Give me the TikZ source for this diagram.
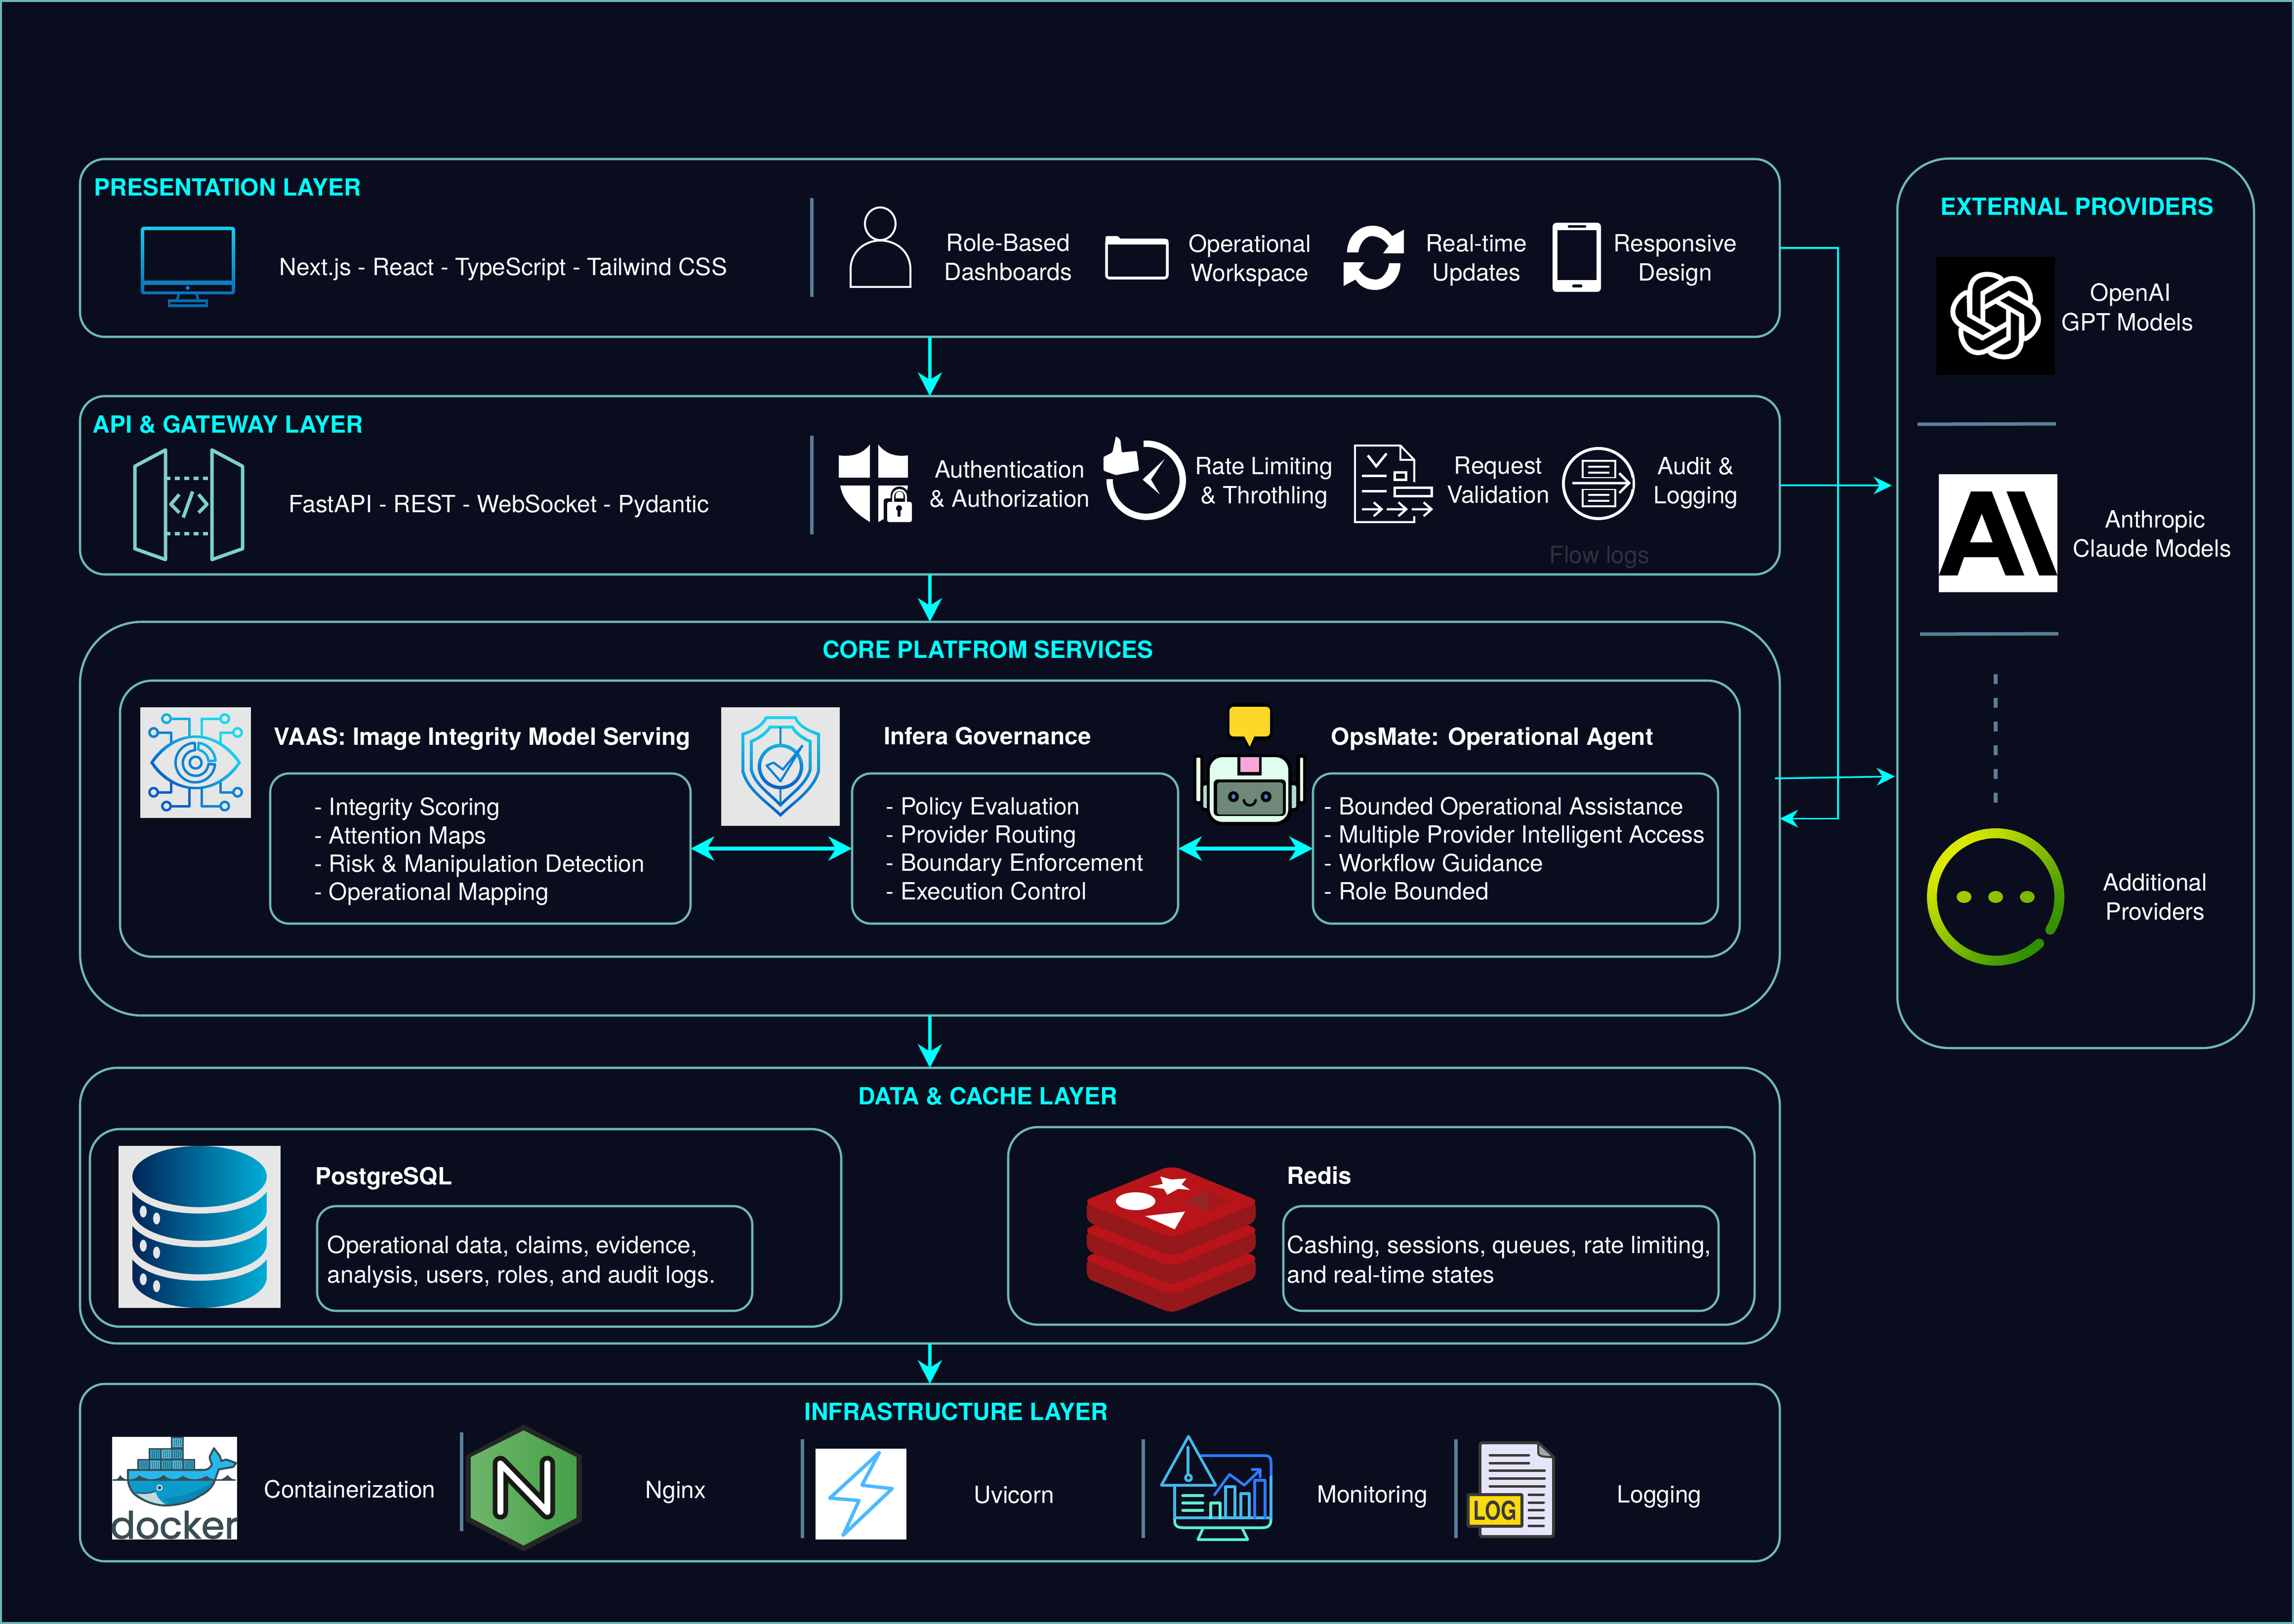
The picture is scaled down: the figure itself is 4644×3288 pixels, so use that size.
\documentclass[tikz,border=0pt]{standalone}
\usepackage{fontspec}
\setmainfont{TeX Gyre Heros}
\newfontfamily\dockfont[FakeBold=1.6]{Poppins}
\usetikzlibrary{arrows.meta}
\definecolor{bgc}{HTML}{0A0D1E}
\definecolor{tealc}{HTML}{6DB8B9}
\definecolor{sepc}{HTML}{5B7F99}
\definecolor{cyanc}{HTML}{00FFFF}
\definecolor{gray9}{HTML}{E6E6E6}
\definecolor{ringa}{HTML}{DCEB00}
\definecolor{ringb}{HTML}{2F8F00}
\definecolor{redtop}{HTML}{B81419}
\definecolor{redside}{HTML}{95181B}
\definecolor{dgrey}{HTML}{3A3A3A}
\definecolor{dockd}{HTML}{394D54}
\definecolor{eyea}{HTML}{0A5FC8}
\definecolor{eyeb}{HTML}{0B83D6}
\definecolor{eyec}{HTML}{12AEE4}
\definecolor{eyed}{HTML}{1AD6F0}
\definecolor{gw}{HTML}{7ED0CC}
\definecolor{robscreen}{HTML}{6F8878}
\definecolor{pga}{HTML}{00255A}
\definecolor{pgb}{HTML}{00AED6}
\definecolor{nga}{HTML}{6DB56B}
\definecolor{ngb}{HTML}{47A048}
\definecolor{mona}{HTML}{5BEFD0}
\definecolor{monb}{HTML}{45B8EA}
\definecolor{monc}{HTML}{2F7BFF}
\definecolor{whup}{HTML}{27B7EE}
\definecolor{whlo}{HTML}{0A9BCB}
\definecolor{whdk}{HTML}{0888B5}
\definecolor{whjaw}{HTML}{BFD9E0}
\definecolor{ctra}{HTML}{2A9FC4}
\definecolor{ctrb}{HTML}{4BB8DC}
\definecolor{boltc}{HTML}{4DB8FF}
\tikzset{
  framebox/.style={draw=tealc,line width=1.3pt,fill=bgc,inner sep=0pt,outer sep=0pt},
  body/.style={text=white,font=\fontsize{13.65}{16.8}\selectfont,align=center,inner sep=0pt},
  listtxt/.style={text=white,font=\fontsize{13.65}{16.3}\selectfont,align=left,anchor=west,inner sep=0pt},
  head/.style={text=white,font=\fontsize{13.65}{16}\selectfont\bfseries,inner sep=0pt},
  layertitle/.style={text=cyanc,font=\fontsize{13.65}{16}\selectfont\bfseries,inner sep=0pt},
  sepline/.style={draw=sepc,line width=.07cm},
  bigarrow/.style={draw=cyanc,line width=.07cm,-{Stealth[length=.48cm,width=.49cm,inset=.15cm]}},
  dblarrow/.style={draw=cyanc,line width=.08cm,{Stealth[length=.48cm,width=.49cm,inset=.15cm]}-{Stealth[length=.48cm,width=.49cm,inset=.15cm]}},
  thinarrow/.style={draw=cyanc,line width=.035cm,-{Stealth[length=.37cm,width=.36cm,inset=.12cm]}},
  icon/.style={draw=white,line width=.04cm},
  eyeline/.style={line width=.05cm,line join=round},
}
\newcommand{\panel}[6]{%
  \pgfmathsetmacro\pnlcx{(#2+#4)/2}\pgfmathsetmacro\pnlcy{(#3+#5)/2}%
  \pgfmathsetmacro\pnlw{#4-#2}\pgfmathsetmacro\pnlh{#5-#3}%
  \node[framebox,rounded corners=#6 cm,minimum width=\pnlw*0.01cm,minimum height=\pnlh*0.01cm] (#1) at (\pnlcx,\pnlcy) {};}
\begin{document}
\begin{tikzpicture}[x=0.01cm,y=-0.01cm]
\useasboundingbox (0,0) rectangle (4644,3288);
\fill[bgc] (0,0) rectangle (4644,3288);
\draw[tealc,line width=.04cm] (2,2) rectangle (4642,3286);
% ---------- panels
\panel{pres}{162}{322}{3603}{682}{.5}
\panel{api}{162}{802}{3603}{1163}{.5}
\panel{core}{162}{1259}{3603}{2056}{1.25}
\panel{coreinner}{243}{1378}{3522}{1937}{.65}
\panel{vaaslist}{547}{1566}{1398}{1870}{.38}
\panel{inferalist}{1725}{1566}{2385}{1870}{.38}
\panel{opslist}{2658}{1566}{3478}{1870}{.38}
\panel{data}{162}{2162}{3603}{2720}{.75}
\panel{pglook}{182}{2286}{1703}{2686}{.6}
\panel{redislook}{2041}{2282}{3552}{2682}{.6}
\panel{pgdesc}{642}{2442}{1523}{2654}{.38}
\panel{redisdesc}{2598}{2442}{3479}{2654}{.38}
\panel{infra}{162}{2802}{3603}{3161}{.5}
\panel{ext}{3841}{321}{4563}{2122}{1.05}
% ---------- titles
\node[layertitle,anchor=west] (tpres) at (190,379) {PRESENTATION LAYER};
\node[layertitle,anchor=west] (tapi) at (187,859) {API \& GATEWAY LAYER};
\node[layertitle] (tcore) at (2000,1315) {CORE PLATFROM SERVICES};
\node[layertitle] (tdata) at (2000,2219) {DATA \& CACHE LAYER};
\node[layertitle] (tinfra) at (1936,2858) {INFRASTRUCTURE LAYER};
\node[layertitle] (text) at (4205,418) {EXTERNAL PROVIDERS};
% ---------- body texts
\node[body] (l1) at (1019,545) {Next.js - React - TypeScript - Tailwind CSS};
\node[body] (l2) at (2041,521) {Role-Based\\Dashboards};
\node[body] (l3) at (2530,527) {Operational\\Workspace};
\node[body] (l4) at (2989,527) {Real-time\\Updates};
\node[body] (l5) at (3391,527) {Responsive\\Design};
\node[body] (l6) at (1010,1025) {FastAPI - REST - WebSocket - Pydantic};
\node[body] (l7) at (2044,980) {Authentication\\\& Authorization};
\node[body] (l8) at (2559,978) {Rate Limiting\\\& Throthling};
\node[body] (l9) at (3033,972) {Request\\Validation};
\node[body] (l10) at (3433,978) {Audit \&\\Logging};
\node[body,text=bgc!85!white] (flow) at (3238,1128) {Flow logs};
\node[head,anchor=west] (h1) at (554,1496) {VAAS: Image Integrity Model Serving};
\node[head] (h2) at (1999,1490) {Infera Governance};
\node[head] (h3) at (3021,1496) {OpsMate: Operational Agent};
\node[listtxt] (li1) at (636,1724) {- Integrity Scoring\\- Attention Maps\\- Risk \& Manipulation Detection\\- Operational Mapping};
\node[listtxt] (li2) at (1793,1718) {- Policy Evaluation\\- Provider Routing\\- Boundary Enforcement\\- Execution Control};
\node[listtxt] (li3) at (2680,1718) {- Bounded Operational Assistance\\- Multiple Provider Intelligent Access\\- Workflow Guidance\\- Role Bounded};
\node[head,anchor=west] (h4) at (638,2386) {PostgreSQL};
\node[head,anchor=west] (h5) at (2605,2380) {Redis};
\node[listtxt,font=\fontsize{13.65}{16.9}\selectfont] (d1) at (662,2555) {Operational data, claims, evidence,\\analysis, users, roles, and audit logs.};
\node[listtxt,font=\fontsize{13.65}{16.9}\selectfont] (d2) at (2605,2550) {Cashing, sessions, queues, rate limiting,\\and real-time states};
\node[body] (i1) at (708,3015) {Containerization};
\node[body] (i2) at (1368,3021) {Nginx};
\node[body] (i3) at (2053,3026) {Uvicorn};
\node[body] (i4) at (2778,3030) {Monitoring};
\node[body] (i5) at (3359,3030) {Logging};
\node[body] (e1) at (4307,622) {\hspace*{.12cm}OpenAI\\GPT Models};
\node[body] (e2) at (4357,1081) {\hspace*{.12cm}Anthropic\\Claude Models};
\node[body] (e3) at (4363,1816) {Additional\\Providers};
% ---------- separators
\draw[sepline] (1643,401) -- (1643,601);
\draw[sepline] (1643,882) -- (1643,1082);
\draw[sepline] (934,2900) -- (934,3100);
\draw[sepline] (1624,2914) -- (1624,3114);
\draw[sepline] (2314,2914) -- (2314,3114);
\draw[sepline] (2947,2914) -- (2947,3114);
\draw[sepline] (3882,859) -- (4162,858);
\draw[sepline] (3887,1284) -- (4167,1283);
\draw[sepc,line width=.08cm,dash pattern=on .2cm off .28cm] (4040,1365) -- (4040,1625);
% ---------- connectors
\draw[bigarrow] (pres.south) -- (api.north);
\draw[bigarrow] (api.south) -- (core.north);
\draw[bigarrow] (core.south) -- (data.north);
\draw[bigarrow] (data.south) -- (infra.north);
\draw[dblarrow] (vaaslist.east) -- (inferalist.west);
\draw[dblarrow] (inferalist.east) -- (opslist.west);
\coordinate (bus) at (3721,1000);
\coordinate (extapi) at (3830,983);
\coordinate (coreout) at (3593,1576);
\coordinate (extcore) at (3836,1572);
\draw[thinarrow] (pres.east) -| (bus) |- (core.east);
\draw[thinarrow] (api.east) -- (extapi);
\draw[thinarrow] (coreout) -- (extcore);
% ---------- desktop icon
\shade[top color=eyed!70!eyec,bottom color=eyeb!85!black,rounded corners=.06cm] (285,459) rectangle (476,596);
\fill[bgc] (292,466) rectangle (469,568);
\fill[bgc] (292,577) rectangle (469,590);
\fill[eyeb] (380,583) circle (4);
\draw[eyeb!80!black,line width=.05cm] (362,596) -- (358,609) (398,596) -- (402,609);
\draw[eyeb!80!black,line width=.05cm] (342,609) rectangle (418,619);
% ---------- gateway icon
\begin{scope}[line width=.07cm,line join=round]
\draw[gw] (335,911) -- (273,944) -- (273,1111) -- (335,1133) -- cycle;
\draw[gw] (429,911) -- (491,944) -- (491,1111) -- (429,1133) -- cycle;
\draw[gw,dash pattern=on .1cm off .09cm] (335,968) -- (429,968);
\draw[gw,dash pattern=on .1cm off .09cm] (335,1080) -- (429,1080);
\draw[gw] (363,1001) -- (346,1021) -- (363,1038);
\draw[gw] (402,1001) -- (419,1021) -- (402,1038);
\draw[gw] (390,995) -- (371,1048);
\end{scope}
% ---------- person
\draw[icon] (1782,453) ellipse (31 and 33);
\draw[icon] (1722,581) -- (1722,545) .. controls (1722,510) and (1750,487) .. (1782,487) .. controls (1815,487) and (1843,510) .. (1843,545) -- (1843,581) -- cycle;
% ---------- folder
\draw[white,line width=.055cm,rounded corners=.06cm] (2240,486) rectangle (2363,563);
\fill[white,rounded corners=.03cm] (2238,478) -- (2264,478) -- (2268,484) -- (2365,484) -- (2365,495) -- (2238,495) -- cycle;
% ---------- refresh
\foreach \rr in {0,180}{
\fill[white,rotate around={\rr:(2781,522)}] (2727,511) .. controls (2727,480) and (2750,457) .. (2778,457) .. controls (2795,457) and (2808,463) .. (2818,478) -- (2842,465) -- (2842,513) -- (2800,513) -- (2811,498) .. controls (2802,484) and (2790,478) .. (2775,478) .. controls (2762,480) and (2752,495) .. (2750,511) -- cycle;
}
% ---------- phone
\fill[white,rounded corners=.08cm] (3143,451) rectangle (3241,591);
\fill[bgc] (3153,466) rectangle (3232,567);
\fill[bgc,rounded corners=.015cm] (3174,456) rectangle (3211,461);
\fill[bgc,rounded corners=.015cm] (3183,576) rectangle (3203,582);
% ---------- auth shield
\fill[white] (1761,900) .. controls (1745,920) and (1725,925) .. (1698,922) -- (1698,967) -- (1761,967) -- cycle;
\fill[white] (1778,900) .. controls (1794,920) and (1814,925) .. (1838,922) -- (1838,967) -- (1778,967) -- cycle;
\fill[white] (1701,983) -- (1761,983) -- (1761,1057) .. controls (1725,1035) and (1705,1010) .. (1701,983) -- cycle;
\fill[white] (1778,983) -- (1838,983) .. controls (1835,1015) and (1810,1040) .. (1778,1057) -- cycle;
\draw[bgc,line width=.1cm] (1808,1016) -- (1808,1003) arc[start angle=180,end angle=360,radius=13] -- (1834,1016);
\fill[bgc,rounded corners=.05cm] (1789,1009) rectangle (1850,1060);
\draw[white,line width=.04cm] (1808,1016) -- (1808,1005) arc[start angle=180,end angle=360,radius=13] -- (1834,1016);
\fill[white,rounded corners=.04cm] (1796,1016) rectangle (1846,1057);
\fill[bgc] (1820,1029) circle (6);
\fill[bgc] (1817,1031) rectangle (1823,1046);
% ---------- clock & thumb
\draw[white,line width=.13cm] (2305,900) arc[start angle=-102,end angle=192,radius=74];
\fill[white] (2358,929) -- (2313,971) -- (2348,1001) -- (2330,971) -- cycle;
\fill[bgc] (2225,875) rectangle (2315,970);
\fill[white,rounded corners=.02cm] (2259,883) -- (2268,890) -- (2271,916) -- (2301,913) -- (2306,953) -- (2259,962) -- (2234,953) -- (2234,925) -- (2252,916) -- cycle;
% ---------- validation doc
\draw[icon] (2863,976) -- (2863,931) -- (2835,902) -- (2743,902) -- (2743,1057) -- (2863,1057) -- (2863,1045);
\draw[icon] (2835,902) -- (2835,931) -- (2863,931);
\draw[icon,line width=.05cm] (2769,922) -- (2786,944) -- (2807,918);
\draw[icon,line width=.05cm] (2757,963) -- (2807,963) (2757,994) -- (2807,994);
\draw[icon,line width=.05cm] (2823,956) rectangle (2846,971);
\draw[icon,line width=.05cm] (2823,987) rectangle (2898,1004);
\foreach \ax in {2757,2807,2858}{
\draw[icon,line width=.045cm] (\ax,1031) -- +(40,0) (\ax+24,1017) -- (\ax+40,1031) -- (\ax+24,1045);
}
% ---------- audit icon
\draw[icon,line width=.06cm] (3236,979) circle (71);
\draw[icon] (3204,933) rectangle (3270,968);
\draw[icon] (3204,990) rectangle (3270,1025);
\draw[icon] (3215,945) -- (3258,945) (3215,957) -- (3258,957) (3215,1002) -- (3258,1002) (3215,1014) -- (3258,1014);
\fill[bgc] (3175,968) rectangle (3305,990);
\draw[icon,line width=.05cm] (3183,978) -- (3296,978) (3278,958) -- (3298,978) -- (3278,998);
% ---------- eye icon
\fill[gray9] (284,1432) rectangle (508,1656);
\begin{scope}[eyeline]
\foreach \nx/\ny/\ax/\ay/\kx/\cc in {337/1455/383/1494/383/eyec,455/1455/408/1494/408/eyed,311/1483/346/1504/346/eyeb,481/1483/446/1504/446/eyed,337/1632/383/1594/383/eyea,455/1632/408/1594/408/eyeb,311/1604/346/1584/346/eyea,481/1604/446/1584/446/eyeb}{
\draw[\cc] (\ax,\ay) -- (\kx,\ny) -- (\nx,\ny);
\draw[\cc,fill=gray9] (\nx,\ny) circle (8.5);
}
\end{scope}
\shade[left color=eyea,right color=eyed,shading angle=135] (304,1544) .. controls (325,1510) and (360,1489) .. (396,1489) .. controls (432,1489) and (467,1510) .. (488,1544) .. controls (467,1578) and (432,1598) .. (396,1598) .. controls (360,1598) and (325,1578) .. (304,1544) -- cycle;
\fill[gray9] (311,1544) .. controls (332,1515) and (362,1494) .. (396,1494) .. controls (430,1494) and (460,1515) .. (481,1544) .. controls (460,1573) and (430,1593) .. (396,1593) .. controls (362,1593) and (332,1573) .. (311,1544) -- cycle;
\draw[eyeb,eyeline] (394,1504) arc[start angle=268,end angle=90,radius=40] arc[start angle=90,end angle=5,radius=40] -- (422,1547) arc[start angle=5,end angle=90,radius=26] arc[start angle=90,end angle=268,radius=26] -- cycle;
\draw[eyec,eyeline] (402,1504) arc[start angle=-82,end angle=-5,radius=40] -- (422,1541) arc[start angle=-5,end angle=-78,radius=26] -- cycle;
\draw[eyeb,eyeline] (396,1544) circle (12);
% ---------- shield icon
\fill[gray9] (1460,1432) rectangle (1700,1672);
\shade[top color=eyed,bottom color=eyea] (1549,1450) -- (1612,1450) .. controls (1620,1470) and (1640,1478) .. (1660,1484) -- (1660,1562) .. controls (1650,1600) and (1610,1625) .. (1580,1654) .. controls (1550,1625) and (1510,1600) .. (1501,1562) -- (1501,1484) .. controls (1520,1478) and (1540,1470) .. (1549,1450) -- cycle;
\fill[gray9] (1553,1456) -- (1608,1456) .. controls (1616,1473) and (1636,1482) .. (1654,1489) -- (1654,1560) .. controls (1645,1596) and (1608,1620) .. (1580,1646) .. controls (1552,1620) and (1515,1596) .. (1507,1560) -- (1507,1489) .. controls (1524,1482) and (1545,1473) .. (1553,1456) -- cycle;
\shade[top color=eyed,bottom color=eyea] (1557,1469) -- (1606,1469) .. controls (1612,1482) and (1628,1493) .. (1643,1499) -- (1643,1559) .. controls (1635,1590) and (1600,1612) .. (1580,1634) .. controls (1560,1612) and (1525,1590) .. (1518,1559) -- (1518,1499) .. controls (1533,1493) and (1550,1482) .. (1557,1469) -- cycle;
\fill[gray9] (1561,1475) -- (1602,1475) .. controls (1608,1486) and (1624,1498) .. (1637,1503) -- (1637,1557) .. controls (1630,1586) and (1598,1606) .. (1580,1626) .. controls (1562,1606) and (1530,1586) .. (1524,1557) -- (1524,1503) .. controls (1537,1498) and (1554,1486) .. (1561,1475) -- cycle;
\draw[eyeb,line width=.04cm] (1580,1472) -- (1580,1630);
\shade[top color=eyec,bottom color=eyea] (1580,1552) circle (46);
\fill[gray9] (1580,1552) circle (39);
\draw[eyeb,line width=.045cm,line join=round] (1552,1550) -- (1580,1582) -- (1624,1510) -- (1585,1558) -- (1566,1544) -- cycle;
% ---------- robot
\fill[black,rounded corners=.12cm] (2484,1424) rectangle (2576,1498);
\fill[black] (2510,1490) -- (2548,1490) -- (2530,1519) -- cycle;
\fill[yellow!70!orange!85!white,rounded corners=.08cm] (2489,1431) rectangle (2571,1491);
\fill[yellow!70!orange!85!white] (2518,1489) -- (2540,1489) -- (2530,1512) -- cycle;
\fill[black,rounded corners=.05cm] (2416,1527) rectangle (2436,1628);
\fill[black,rounded corners=.05cm] (2624,1527) rectangle (2644,1628);
\fill[green!10!white,rounded corners=.02cm] (2422,1534) rectangle (2430,1622);
\fill[green!10!white,rounded corners=.02cm] (2632,1534) rectangle (2638,1622);
\fill[black,rounded corners=.08cm] (2430,1582) rectangle (2630,1642);
\fill[teal!30!white,rounded corners=.04cm] (2436,1590) rectangle (2624,1636);
\fill[black,rounded corners=.3cm] (2443,1527) rectangle (2615,1671);
\fill[green!8!white!95!cyan,rounded corners=.26cm] (2449,1533) rectangle (2608,1664);
\fill[black] (2505,1533) rectangle (2554,1570);
\fill[magenta!35!white] (2511,1533) rectangle (2549,1563);
\fill[black,rounded corners=.08cm] (2457,1578) rectangle (2603,1652);
\fill[robscreen,rounded corners=.05cm] (2464,1584) rectangle (2597,1649);
\fill[black] (2497,1613) ellipse (11 and 11);
\fill[black] (2563,1613) ellipse (11 and 11);
\fill[cyan!50!blue!80!white] (2497,1613) ellipse (4 and 5);
\fill[cyan!50!blue!80!white] (2563,1613) ellipse (4 and 5);
\draw[black,line width=.05cm,line cap=round] (2518,1620) .. controls (2520,1634) and (2540,1634) .. (2542,1620);
% ---------- postgres
\fill[gray9] (240,2320) rectangle (568,2648);
\shade[left color=pga,right color=pgb] (404,2382) ellipse (136 and 62);
\foreach \ts/\ic/\bc in {2413/2457/2450,2482/2525/2518,2550/2593/2586}{
\shade[left color=pga,right color=pgb] (268,\ts) -- (268,\bc) .. controls (268,\bc+35) and (330,\bc+62) .. (404,\bc+62) .. controls (478,\bc+62) and (540,\bc+35) .. (540,\bc) -- (540,\ts) .. controls (515,\ic-12) and (460,\ic) .. (404,\ic) .. controls (348,\ic) and (293,\ic-12) .. (268,\ts) -- cycle;
\fill[gray9] (290,\ts+40) ellipse (7 and 12);
\fill[gray9] (317,\ts+54) ellipse (7 and 12);
}
% ---------- redis
\foreach \c in {2548,2491,2433}{
\fill[redside,rounded corners=.12cm] (2372,\c-40) -- (2542,\c) -- (2542,\c+40) -- (2380,\c+108) -- (2364,\c+108) -- (2200,\c+40) -- (2200,\c) -- cycle;
\fill[redtop,rounded corners=.2cm] (2372,\c-74) -- (2552,\c) -- (2372,\c+74) -- (2190,\c) -- cycle;
}
\fill[white] (2299,2432) ellipse (40 and 18);
\fill[white] (2349,2382) -- (2371,2388) -- (2402,2386) -- (2392,2398) -- (2409,2409) -- (2385,2407) -- (2363,2419) -- (2356,2407) -- (2325,2403) -- (2354,2397) -- cycle;
\fill[white] (2399,2453) -- (2318,2462) -- (2378,2489) -- cycle;
\fill[red!50!black!85!white] (2445,2411) -- (2398,2432) -- (2445,2453) -- cycle;
\fill[red!60!black!90!white] (2445,2411) -- (2493,2432) -- (2445,2453) -- cycle;
% ---------- docker
\fill[white] (227,2909) rectangle (480,3117);
\fill[dockd] (346,2909) rectangle (372,2932);
\fill[dockd] (301,2932) rectangle (372,2954);
\fill[dockd] (278,2954) rectangle (395,2977);
\foreach \bx/\by/\cc in {349/2912/ctrb,304/2935/ctra,327/2935/ctrb,349/2935/ctra,281/2957/ctra,304/2957/ctrb,327/2957/ctra,349/2957/ctrb,372/2957/ctra}{
\fill[\cc] (\bx,\by) rectangle +(20,18);
\foreach \gx in {4,8,12,16}{\draw[dockd,line width=.008cm] (\bx+\gx,\by+2) -- (\bx+\gx,\by+16);}
}
\fill[whup] (259,2976) -- (412,2976) .. controls (420,2976) and (427,2972) .. (429,2964) .. controls (425,2958) and (424,2950) .. (425,2948) -- (433,2932) -- (445,2948) -- (448,2958) -- (458,2955) -- (478,2962) -- (472,2970) -- (443,2975) -- (433,3002) -- (259,3002) -- cycle;
\fill[whlo] (259,2995) -- (437,2995) -- (433,3002) .. controls (425,3020) and (405,3028) .. (405,3028) .. controls (390,3040) and (360,3048) .. (335,3048) .. controls (310,3048) and (285,3036) .. (272,3025) .. controls (265,3018) and (260,3008) .. (259,2995) -- cycle;
\fill[whdk] (435,2998) .. controls (410,3015) and (375,3030) .. (330,3034) .. controls (340,3040) and (345,3046) .. (345,3047) .. controls (385,3046) and (425,3020) .. (435,2998) -- cycle;
\fill[whjaw] (275,3023) .. controls (290,3024) and (305,3023) .. (315,3019) .. controls (316,3030) and (325,3040) .. (337,3047) .. controls (315,3047) and (290,3037) .. (275,3023) -- cycle;
\draw[dockd,line width=.04cm,line join=round] (259,2976) -- (412,2976) .. controls (420,2976) and (427,2972) .. (429,2964) .. controls (425,2958) and (424,2950) .. (425,2948) -- (433,2932) -- (445,2948) -- (448,2958) -- (458,2955) -- (478,2962) -- (472,2970) -- (443,2975) -- (433,3002) .. controls (425,3020) and (405,3028) .. (405,3028) .. controls (390,3040) and (360,3048) .. (335,3048) .. controls (310,3048) and (285,3036) .. (272,3025) .. controls (265,3018) and (260,3008) .. (259,2995) -- cycle;
\draw[dockd,line width=.03cm] (228,2996) -- (477,2996);
\fill[dockd] (260,2996) .. controls (270,2995) and (278,2992) .. (282,2987) .. controls (288,2992) and (300,2995) .. (306,2995) .. controls (316,2995) and (326,2992) .. (331,2986) .. controls (337,2992) and (345,2995) .. (350,2995) .. controls (358,2995) and (365,2992) .. (370,2988) .. controls (375,2992) and (385,2995) .. (393,2995) .. controls (403,2995) and (412,2992) .. (418,2988) .. controls (422,2992) and (430,2995) .. (436,2996) -- cycle;
\fill[dockd] (232,2996) .. controls (240,2994) and (242,2990) .. (243,2986) .. controls (246,2991) and (252,2995) .. (258,2996) -- cycle;
\fill[dockd] (445,2996) .. controls (452,2994) and (458,2990) .. (461,2986) .. controls (464,2991) and (470,2995) .. (476,2996) -- cycle;
\draw[dockd,line width=.025cm] (275,3022) .. controls (290,3025) and (305,3023) .. (315,3019);
\fill[white] (323,3012) circle (6);
\fill[dockd] (323,3012) circle (4);
\node[inner sep=0pt,text=dockd,font=\dockfont\fontsize{21.5}{22}\selectfont,anchor=base] (dockertxt) at (353,3115) {docker};
% ---------- nginx
\fill[black!85!white] (1060,2884) -- (1178,2947) -- (1178,3080) -- (1060,3141) -- (943,3080) -- (943,2947) -- cycle;
\shade[left color=nga,right color=ngb] (1060,2896) -- (1167,2950) -- (1167,3073) -- (1060,3129) -- (953,3073) -- (953,2950) -- cycle;
\draw[black!90!white,line width=.31cm,line join=round,line cap=round] (1013,3061) -- (1013,2963) -- (1108,3061) -- (1108,2963);
\draw[white,line width=.12cm,line join=round,line cap=round] (1013,3061) -- (1013,2963) -- (1108,3061) -- (1108,2963);
% ---------- uvicorn
\fill[white] (1651,2933) rectangle (1835,3117);
\draw[boltc,line width=.07cm,line join=round] (1780,2941) -- (1745,3007) -- (1806,3014) -- (1707,3108) -- (1739,3038) -- (1680,3033) -- cycle;
% ---------- monitoring
\begin{scope}[line width=.055cm,line join=round,line cap=round]
\draw[monb] (2378,3007) -- (2378,3075);
\draw[monc] (2432,2947) -- (2560,2947) .. controls (2570,2947) and (2573,2952) .. (2573,2960) -- (2573,2990);
\draw[monb] (2573,2990) -- (2573,3075);
\draw[mona] (2378,3075) -- (2378,3080) .. controls (2378,3090) and (2385,3093) .. (2395,3093) -- (2556,3093) .. controls (2568,3093) and (2573,3088) .. (2573,3075);
\draw[monb] (2378,3073) -- (2573,3073);
\draw[mona] (2435,3095) -- (2425,3117) -- (2526,3117) -- (2515,3095);
\draw[monb] (2406,2908) -- (2461,3007) -- (2351,3007) -- cycle;
\draw[monb] (2405,2930) -- (2405,2983);
\draw[monb,fill=bgc] (2406,2992) circle (6);
\draw[mona] (2394,3028) -- (2435,3028) (2394,3043) -- (2435,3043) (2394,3058) -- (2435,3058);
\draw[mona] (2451,3073) |- (2470,3043) -- (2470,3073);
\draw[monb] (2481,3073) |- (2500,3010) -- (2500,3073);
\draw[monb] (2512,3073) |- (2529,3024) -- (2529,3073);
\draw[monc] (2540,3073) |- (2561,2997) -- (2561,3073);
\draw[monc] (2459,3026) -- (2489,2985) -- (2519,3007) -- (2550,2977) (2535,2975) -- (2551,2975) -- (2551,2990);
\end{scope}
% ---------- log doc
\fill[gray!30!blue!12!white,draw=dgrey,line width=.06cm,rounded corners=.05cm] (2996,2921) -- (3114,2921) -- (3145,2950) -- (3145,3111) -- (2996,3111) -- cycle;
\fill[gray!70!white,draw=dgrey,line width=.04cm] (3114,2921) -- (3114,2942) .. controls (3114,2947) and (3120,2950) .. (3145,2950) -- cycle;
\foreach \ly/\lx in {2946/3095,2962/3095,2977/3127,2993/3127,3009/3127}{\draw[dgrey,line width=.05cm,line cap=round] (3016,\ly) -- (\lx,\ly);}
\foreach \ly in {3026,3042,3057,3073,3089}{\draw[dgrey,line width=.05cm,line cap=round] (3095,\ly) -- (3125,\ly);}
\fill[yellow!75!orange!95!white,draw=dgrey,line width=.06cm,rounded corners=.02cm] (2972,3026) rectangle (3081,3090);
\node[inner sep=0pt,text=dgrey,font=\fontsize{15}{15}\selectfont\bfseries] (logtxt) at (3026,3058) {\scalebox{.78}[1]{LOG}};
% ---------- openai
\fill[black] (3920,520) rectangle (4160,759);
\foreach \rr in {0,60,...,300}{
\begin{scope}[shift={(4040,639)},rotate=\rr]
\draw[white,fill=white,line width=.2cm,line join=round] (6.7,-71.7) .. controls (-8,-82) and (-46,-85) .. (-47,-50) -- (-47.3,-2.7) -- (-30.7,7.3) -- (-30.7,-48.7) -- cycle;
\end{scope}
}
\fill[white] (4040,639) circle (60);
\foreach \rr in {0,60,...,300}{
\begin{scope}[shift={(4040,639)},rotate=\rr]
\fill[black] (6.7,-71.7) .. controls (-8,-82) and (-46,-85) .. (-47,-50) -- (-47.3,-2.7) -- (-30.7,7.3) -- (-30.7,-48.7) -- cycle;
\end{scope}
}
\fill[black] (4040,615) -- (4061,627) -- (4061,651) -- (4040,663) -- (4019,651) -- (4019,627) -- cycle;
% ---------- anthropic
\fill[white] (3925,960) rectangle (4165,1199);
\fill[black,even odd rule] (3925,1165) -- (3990,995) -- (4032,995) -- (4098,1165) -- (4060,1165) -- (4045,1128) -- (3976,1128) -- (3963,1165) -- cycle (4012,1040) -- (4034,1098) -- (3988,1098) -- cycle;
\fill[black] (4062,995) -- (4098,995) -- (4165,1165) -- (4128,1165) -- cycle;
% ---------- additional providers ring
\foreach \a in {47,51,...,387}{
\pgfmathsetmacro\rcT{100*(cos(\a)+sin(\a)+1.4143)/2.8286}
\pgfmathsetmacro\rcX{4040+129*cos(\a)}
\pgfmathsetmacro\rcY{1816+129*sin(\a)}
\colorlet{rc}{ringb!\rcT!ringa}
\draw[rc,line width=.2cm,line cap=round] (\rcX,\rcY) arc[start angle=\a,delta angle=4,radius=129];
}
\fill[ringb!35!ringa] (3976,1816) ellipse (15 and 12);
\fill[ringb!45!ringa] (4040,1816) ellipse (15 and 12);
\fill[ringb!55!ringa] (4104,1816) ellipse (15 and 12);
\end{tikzpicture}
\end{document}
